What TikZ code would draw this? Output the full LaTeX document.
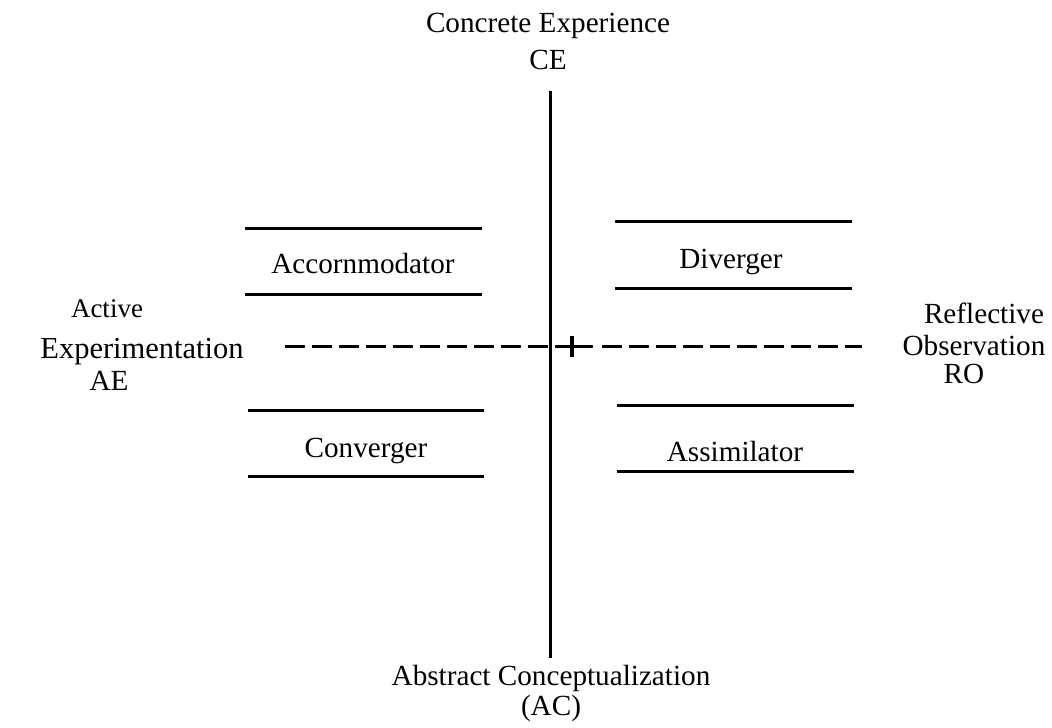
\documentclass[tikz,border=0pt]{standalone}
\usepackage{fontspec}
\setmainfont{Liberation Serif}
\usetikzlibrary{calc}

\begin{document}
\begin{tikzpicture}[x=1pt,y=-1pt,
        lbl/.style={anchor=base,inner sep=0pt,font=\fontsize{29.2}{35}\selectfont},
        bar/.style={line width=3pt}]
        \useasboundingbox (0,0) rectangle (1052,728);

        % the two axes
        \coordinate (ce) at (550,91);
        \coordinate (ac) at (550,658);
        \coordinate (ae) at (285,346);
        \coordinate (ro) at (862,346);
        \coordinate (mid) at (572,346);
        \draw[bar] (ce)--(ac);
        \draw[bar,dash pattern=on 20pt off 7pt] (ae)--(ce|-ae);
        \draw[bar,dash pattern=on 20pt off 7pt] ($(mid)+(30,0)$)--(ro);
        \draw[bar] ($(mid)+(-17,0)$)--($(mid)+(21,0)$);
        \draw[line width=4pt] ($(mid)+(0,-10)$)--($(mid)+(0,11)$);

        % axis ends
        \node[lbl] (ce1) at (548,32) {Concrete Experience};
        \node[lbl] (ce2) at (548,69) {CE};
        \node[lbl] (ac1) at (551,685) {Abstract Conceptualization};
        \node[lbl] (ac2) at (551,715) {(AC)};
        \node[lbl,font=\fontsize{27}{32}\selectfont] (ae1) at (107,317) {Active};
        \node[lbl,font=\fontsize{30.5}{36}\selectfont] (ae2) at (142,358) {Experimentation};
        \node[lbl] (ae3) at (109,390) {AE};
        \node[lbl] (ro1) at (984,323) {Reflective};
        \node[lbl] (ro2) at (974,355) {Observation};
        \node[lbl] (ro3) at (964,383) {RO};

        % the four styles
        \draw[bar] (245,228)--(482,228);
        \draw[bar] (245,294)--(482,294);
        \node[lbl] (acc) at (363,273) {Accornmodator};

        \draw[bar] (615,221)--(852,221);
        \draw[bar] (615,288)--(852,288);
        \node[lbl] (div) at (731,268) {Diverger};

        \draw[bar] (248,410)--(484,410);
        \draw[bar] (248,476)--(484,476);
        \node[lbl] (con) at (366,457) {Converger};

        \draw[bar] (617,405)--(854,405);
        \draw[bar] (617,471)--(854,471);
        \node[lbl] (ass) at (735,461) {Assimilator};

\end{tikzpicture}
\end{document}
